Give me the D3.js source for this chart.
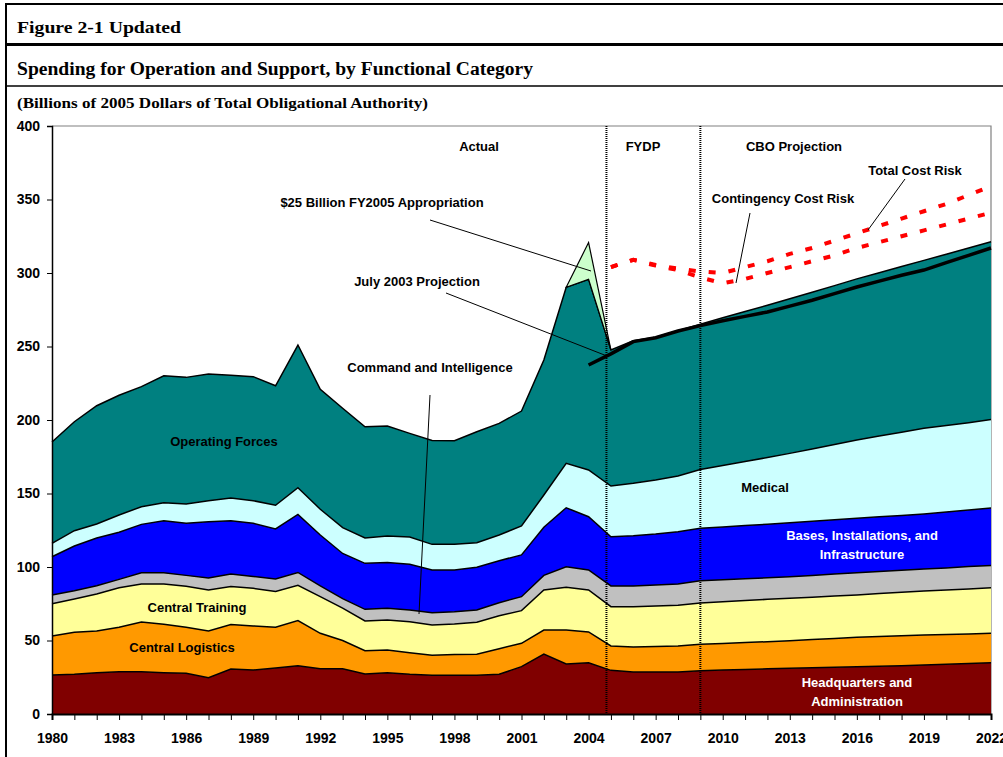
<!DOCTYPE html>
<html>
<head>
<meta charset="utf-8">
<script src="https://cdnjs.cloudflare.com/ajax/libs/d3/7.8.5/d3.min.js"></script>
<style>
  body { margin: 0; background: #fff; }
  svg text { font-family: "Liberation Sans", Arial, sans-serif; }
  .ttl { font-family: "Liberation Serif", "Times New Roman", serif; font-weight: bold; }
  .lbl { font-weight: bold; font-size: 13px; }
  .axis text { font-weight: bold; font-size: 14px; fill: #000; }
  .axis path, .axis line { stroke: #000; }
</style>
</head>
<body>
<script>
// fiscal years
const years = d3.range(1980, 2023);
const xTickLabels = [1980, 1983, 1986, 1989, 1992, 1995, 1998, 2001, 2004, 2007, 2010, 2013, 2016, 2019, 2022];
const yTicks = [0, 50, 100, 150, 200, 250, 300, 350, 400];

// billions of 2005 dollars, by functional category (1980-2022)
const headquarters = [26.5, 27, 28.1, 28.8, 28.8, 28.1, 27.7, 24.7, 30.6, 29.9, 31.3, 32.9, 30.8, 30.7, 27.2, 28.1, 27, 26.3, 26.3, 26.3, 27, 32.2, 40.8, 34, 34.9, 29.7, 28.6, 28.6, 28.6, 29.4, 30, 30.3, 30.7, 31.1, 31.4, 31.8, 32.2, 32.5, 32.9, 33.3, 33.8, 34.3, 34.9];
const logistics = [26.6, 28.6, 28.4, 30.2, 33.8, 32.9, 31.3, 31.8, 30.2, 30, 27.7, 30.6, 24.1, 19.3, 15.9, 15.4, 14.7, 13.6, 14.1, 14.3, 17.4, 15.9, 16.3, 23.1, 20.9, 16.6, 17, 17.4, 17.7, 18.1, 18, 18.3, 18.5, 18.8, 19.3, 19.6, 20, 20.2, 20.3, 20.4, 20.3, 20.2, 20];
const training = [21.9, 22.6, 25.1, 26.9, 25.8, 27.4, 27.9, 27.9, 25.9, 25.6, 24.4, 24, 24.9, 22, 20.2, 20.4, 21.1, 20.6, 20.8, 21.8, 22.5, 22.2, 27.3, 29.1, 28.6, 26.7, 27.4, 27.4, 27.6, 28, 28.3, 28.6, 28.8, 28.8, 28.8, 28.8, 28.8, 29.2, 29.6, 30, 30.3, 30.6, 31];
const commandIntel = [6, 5.7, 5.7, 5.7, 7.7, 7.7, 7.4, 8.1, 8.5, 8.1, 8.4, 8.8, 7.3, 6.5, 7.9, 8, 7.9, 8.4, 8.4, 8.3, 8.8, 9.5, 9.9, 14, 13.6, 14.1, 14.1, 14.4, 14.5, 15.2, 15, 14.8, 14.7, 14.7, 14.8, 15, 15.1, 15, 15, 14.9, 15, 15.2, 15.2];
const bases = [26, 30.4, 32.4, 32, 32.9, 35.4, 35.4, 38.3, 36.3, 36.1, 34.1, 39.5, 34.7, 30.7, 31.3, 31.1, 31.1, 29.1, 28.4, 29.1, 28.6, 28.4, 32.7, 40.1, 36.2, 33.5, 34.2, 34.6, 35.6, 35.6, 35.9, 36.2, 36.4, 36.7, 36.8, 36.9, 37, 37.2, 37.3, 37.5, 38, 38.4, 39];
const medical = [9.1, 10.4, 9.6, 11.8, 12, 12.2, 13.2, 14.3, 15.4, 15.4, 16.1, 18.2, 17.5, 17.6, 17.2, 18.1, 18.6, 17.4, 17.4, 16.7, 17.5, 19.7, 22, 30.2, 31.8, 34.5, 35.6, 36.8, 37.9, 40, 41.8, 43.5, 45.4, 47.2, 49.2, 51.3, 53.3, 55, 56.6, 58.3, 58.9, 59.5, 60.3];
const operatingForces = [68.9, 74.1, 80.4, 81.4, 81.7, 86.4, 86.1, 86.2, 83.5, 84.4, 81.3, 97, 81.6, 81.2, 75.7, 74.8, 70.5, 70.6, 70.5, 75.5, 75.9, 78.2, 91.8, 119.8, 129.7, 92.5, 97, 97.1, 98.9, 98.9, 100.5, 102.1, 103.6, 105.2, 106.6, 108, 109.6, 111.1, 112.7, 114.2, 116.5, 118.8, 120.9];

// $25 billion FY2005 appropriation (sits on top of the stack)
const suppYears = [2003, 2004, 2005];
const suppValues = [0, 25, 0];

// July 2003 projection (total)
const julyYears = [2004, 2005, 2006, 2007, 2008, 2009, 2010, 2011, 2012, 2013, 2014, 2015, 2016, 2017, 2018, 2019, 2020, 2021, 2022];
const julyValues = [237.4, 245, 253.3, 256, 260.5, 264.2, 267.5, 270.5, 273.5, 277.5, 281.5, 286, 290.5, 294.5, 298.5, 302, 307, 312, 317];

// cost risk lines
const riskYears = [2005, 2006, 2007, 2008, 2009, 2010, 2011, 2012, 2013, 2014, 2015, 2016, 2017, 2018, 2019, 2020, 2021, 2022];
const totalRisk = [304, 309, 305.5, 303, 301, 300, 304, 308, 313, 317, 322, 327, 332, 337, 342, 347, 353, 359];
const contingencyRisk = [304, 309, 305, 302, 297, 293, 296, 300, 304, 308, 312, 317, 321, 325, 329, 333, 337, 341];

// period dividers
const dividers = [2004.8, 2009];

const keys = ["hq", "cl", "ct", "ci", "bi", "med", "of"];
const colors = { hq: "#800000", cl: "#FF9900", ct: "#FFFF99", ci: "#C0C0C0", bi: "#0000FF", med: "#CCFFFF", of: "#008080" };
const series = { hq: headquarters, cl: logistics, ct: training, ci: commandIntel, bi: bases, med: medical, of: operatingForces };

const table = years.map((yr, i) => {
  const row = { year: yr };
  keys.forEach(k => { row[k] = series[k][i]; });
  return row;
});

const width = 1003, height = 757;
const margin = { top: 126, right: 12, bottom: 43, left: 52 };

const svg = d3.select("body").append("svg")
  .attr("width", width)
  .attr("height", height);

const x = d3.scaleLinear().domain([1980, 2022]).range([margin.left, width - margin.right]);
const y = d3.scaleLinear().domain([0, 400]).range([height - margin.bottom, margin.top]);

// outer frame + titles
svg.append("line").attr("x1", 6).attr("x2", 6).attr("y1", 3).attr("y2", height).attr("stroke", "#000").attr("stroke-width", 2);
svg.append("line").attr("x1", 5).attr("x2", width).attr("y1", 4).attr("y2", 4).attr("stroke", "#000").attr("stroke-width", 2);
svg.append("line").attr("x1", 5).attr("x2", width).attr("y1", 44.5).attr("y2", 44.5).attr("stroke", "#000").attr("stroke-width", 3);
svg.append("line").attr("x1", 5).attr("x2", width).attr("y1", 86).attr("y2", 86).attr("stroke", "#000").attr("stroke-width", 1.5);

svg.append("text").attr("class", "ttl").attr("x", 17).attr("y", 33)
  .style("font-size", "17px").attr("textLength", 164).attr("lengthAdjust", "spacingAndGlyphs")
  .text("Figure 2-1 Updated");
svg.append("text").attr("class", "ttl").attr("x", 17).attr("y", 75)
  .style("font-size", "18.5px").attr("textLength", 516).attr("lengthAdjust", "spacingAndGlyphs")
  .text("Spending for Operation and Support, by Functional Category");
svg.append("text").attr("class", "ttl").attr("x", 17).attr("y", 108)
  .style("font-size", "15px").attr("textLength", 411).attr("lengthAdjust", "spacingAndGlyphs")
  .text("(Billions of 2005 Dollars of Total Obligational Authority)");

// plot area border (top/right)
svg.append("path")
  .attr("d", `M${x(1980)},${y(400)}H${x(2022)}V${y(0)}`)
  .attr("fill", "none").attr("stroke", "#808080").attr("stroke-width", 1.2);

// stacked areas
const stack = d3.stack().keys(keys);
const layers = stack(table);

const area = d3.area()
  .x(d => x(d.data.year))
  .y0(d => y(d[0]))
  .y1(d => y(d[1]));

const topLine = d3.line()
  .x(d => x(d.data.year))
  .y(d => y(d[1]));

svg.selectAll(".layer")
  .data(layers).enter().append("path")
  .attr("class", "layer")
  .attr("fill", d => colors[d.key])
  .attr("d", area);

svg.selectAll(".layerTop")
  .data(layers).enter().append("path")
  .attr("class", "layerTop")
  .attr("fill", "none")
  .attr("stroke", "#000")
  .attr("stroke-width", 1.5)
  .attr("d", topLine);

// supplemental appropriation wedge
const totalAt = yr => layers[layers.length - 1][years.indexOf(yr)][1];
const suppData = suppYears.map((yr, i) => ({ year: yr, base: totalAt(yr), top: totalAt(yr) + suppValues[i] }));
svg.append("path")
  .datum(suppData)
  .attr("fill", "#CCFFCC")
  .attr("stroke", "#000")
  .attr("stroke-width", 1.2)
  .attr("d", d3.area().x(d => x(d.year)).y0(d => y(d.base)).y1(d => y(d.top)));

// July 2003 projection
svg.append("path")
  .datum(julyYears.map((yr, i) => [yr, julyValues[i]]))
  .attr("fill", "none")
  .attr("stroke", "#000")
  .attr("stroke-width", 3.5)
  .attr("d", d3.line().x(d => x(d[0])).y(d => y(d[1])));

// cost risk lines
[totalRisk, contingencyRisk].forEach(vals => {
  svg.append("path")
    .datum(riskYears.map((yr, i) => [yr, vals[i]]))
    .attr("fill", "none")
    .attr("stroke", "#FF0000")
    .attr("stroke-width", 4)
    .attr("stroke-dasharray", "7,13")
    .attr("d", d3.line().x(d => x(d[0])).y(d => y(d[1])));
});

// period dividers
svg.selectAll(".divider")
  .data(dividers).enter().append("line")
  .attr("class", "divider")
  .attr("x1", d => x(d)).attr("x2", d => x(d))
  .attr("y1", y(400)).attr("y2", y(0))
  .attr("stroke", "#000")
  .attr("stroke-width", 2)
  .attr("stroke-dasharray", "1,1");

// axes
const xAxis = d3.axisBottom(x)
  .tickValues(years)
  .tickSize(6)
  .tickPadding(13)
  .tickFormat(d => xTickLabels.includes(d) ? d : "");
svg.append("g")
  .attr("class", "x axis")
  .attr("transform", `translate(0,${y(0)})`)
  .call(xAxis)
  .call(g => g.select(".domain").attr("stroke-width", 2));

const yAxis = d3.axisLeft(y)
  .tickValues(yTicks)
  .tickSize(5)
  .tickPadding(7);
svg.append("g")
  .attr("class", "y axis")
  .attr("transform", `translate(${x(1980)},0)`)
  .call(yAxis)
  .call(g => g.select(".domain").attr("stroke-width", 1.5));

// leader lines
const leaders = [
  [430, 220, 591, 271],
  [446, 293, 607, 356],
  [430, 395, 419, 614],
  [750, 213, 736, 283],
  [905, 179, 868, 230]
];
svg.selectAll(".leader")
  .data(leaders).enter().append("line")
  .attr("class", "leader")
  .attr("x1", d => d[0]).attr("y1", d => d[1])
  .attr("x2", d => d[2]).attr("y2", d => d[3])
  .attr("stroke", "#000").attr("stroke-width", 1);

// labels
const labels = [
  { t: "Actual", x: 479, y: 151 },
  { t: "FYDP", x: 643, y: 151 },
  { t: "CBO Projection", x: 794, y: 151 },
  { t: "Total Cost Risk", x: 915, y: 175 },
  { t: "Contingency Cost Risk", x: 783, y: 203 },
  { t: "$25 Billion FY2005 Appropriation", x: 382, y: 207 },
  { t: "July 2003 Projection", x: 417, y: 286 },
  { t: "Command and Intelligence", x: 430, y: 372 },
  { t: "Operating Forces", x: 224, y: 446 },
  { t: "Central Training", x: 197, y: 612 },
  { t: "Central Logistics", x: 182, y: 652 },
  { t: "Medical", x: 765, y: 492 },
  { t: "Bases, Installations, and", x: 862, y: 540, c: "#fff" },
  { t: "Infrastructure", x: 862, y: 559, c: "#fff" },
  { t: "Headquarters and", x: 857, y: 687, c: "#fff" },
  { t: "Administration", x: 857, y: 706, c: "#fff" }
];
svg.selectAll(".lbl")
  .data(labels).enter().append("text")
  .attr("class", "lbl")
  .attr("x", d => d.x).attr("y", d => d.y)
  .attr("text-anchor", "middle")
  .attr("fill", d => d.c || "#000")
  .text(d => d.t);
</script>
</body>
</html>
